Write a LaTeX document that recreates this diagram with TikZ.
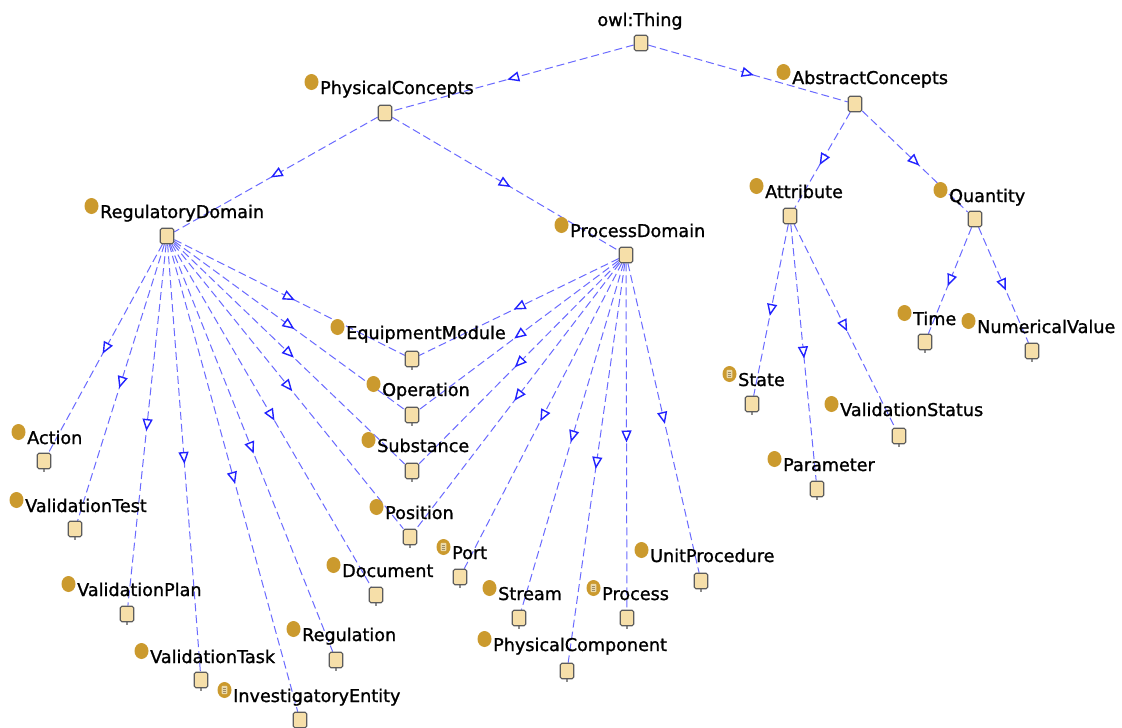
\documentclass[tikz,border=0pt]{standalone}
\usepackage{fontspec}
\setmainfont[FakeBold=1.2]{DejaVu Sans}
\usetikzlibrary{arrows.meta,decorations.markings,shapes.geometric}

\definecolor{boxfill}{HTML}{F6DFA9}
\definecolor{boxdraw}{HTML}{5C5C5C}
\definecolor{icongold}{HTML}{CB9A2E}
\definecolor{eqfill}{HTML}{EBD9A8}
\definecolor{eqline}{HTML}{9A8A68}
\definecolor{edgeblue}{HTML}{6A6AFF}
\definecolor{tipblue}{HTML}{2222FF}

\pgfdeclarelayer{paper}
\pgfdeclarelayer{edges}
\pgfsetlayers{paper,edges,main}

\tikzset{
  classbox/.style={rectangle, rounded corners=1.6pt, draw=boxdraw, fill=boxfill,
    line width=1.1pt, minimum width=13.5pt, minimum height=15.5pt, inner sep=0pt},
  innerbox/.style={classbox},
  leafbox/.style={classbox,
    append after command={\pgfextra{\draw[boxdraw!70, line width=1.3pt]
      (\tikzlastnode.south) -- ++(0,2.2);}}},
  clslabel/.style={anchor=base west, inner sep=0pt,
    font=\fontsize{17.6}{20}\selectfont},
  clsicon/.style={ellipse, fill=icongold, minimum width=14pt,
    minimum height=16pt, inner sep=0pt},
  isa/.style={draw=edgeblue, line width=1pt, dash pattern=on 8pt off 4pt,
    postaction={decorate},
    decoration={markings, mark=at position 0.5 with
      {\arrow[xshift=6pt]{Triangle[length=12pt,width=10pt,fill=white,
        color=tipblue,line width=1.4pt]}}}},
}

% one ontology class: square, its name, and the class icon left of the name
\newcommand{\owlclass}[5]{%
  \node[#5] (#1) at (#2) {};
  \node[clslabel] (#1-lbl) at (#3) {#4};
  \node[clsicon] (#1-ico) at ([shift={(-8.5,-12)}]#1-lbl.base west) {};
}
% defined-class marker drawn inside an icon
\newcommand{\eqmark}[1]{%
  \fill[eqfill, rounded corners=0.8pt] ([shift={(-2.8,-4.2)}]#1-ico.center)
    rectangle ([shift={(2.8,4.2)}]#1-ico.center);
  \foreach \dy in {-1.8,0,1.8}
    \draw[eqline, line width=0.6pt] ([shift={(-1.7,\dy)}]#1-ico.center) -- ++(3.4,0);
}

\begin{document}
\begin{tikzpicture}[x=1pt, y=-1pt]
\begin{pgfonlayer}{paper}
  \fill[white] (0,0) rectangle (1122,728);
\end{pgfonlayer}
\useasboundingbox (0,0) rectangle (1122,728);

% root
\node[innerbox] (thing) at (641,43) {};
\node[anchor=base, inner sep=0pt, font=\fontsize{17.6}{20}\selectfont]
  (thing-lbl) at (640,26) {owl:Thing};

% upper levels
\owlclass{phys}{385,113}{320,94}{PhysicalConcepts}{innerbox}
\owlclass{abs}{855,104}{792,84}{AbstractConcepts}{innerbox}
\owlclass{reg}{167,236}{100,218}{RegulatoryDomain}{innerbox}
\owlclass{proc}{626,255}{570,237}{ProcessDomain}{innerbox}
\owlclass{attr}{790,216}{765,198}{Attribute}{innerbox}
\owlclass{quant}{975,219}{949,202}{Quantity}{innerbox}

% abstract leaves
\owlclass{time}{925,342}{913,325}{Time}{leafbox}
\owlclass{numv}{1032,351}{977,333}{NumericalValue}{leafbox}
\owlclass{state}{752,404}{738,386}{State}{leafbox}
\owlclass{vstat}{899,436}{840,416}{ValidationStatus}{leafbox}
\owlclass{param}{817,489}{783,471}{Parameter}{leafbox}

% shared and process leaves
\owlclass{equip}{412,359}{346,339}{EquipmentModule}{leafbox}
\owlclass{oper}{412,415}{382,396}{Operation}{leafbox}
\owlclass{subst}{412,471}{377,452}{Substance}{leafbox}
\owlclass{posn}{410,537}{385,519}{Position}{leafbox}
\owlclass{port}{460,577}{452,559}{Port}{leafbox}
\owlclass{doc}{376,595}{342,577}{Document}{leafbox}
\owlclass{stream}{519,618}{498,600}{Stream}{leafbox}
\owlclass{process}{627,618}{602,600}{Process}{leafbox}
\owlclass{unitp}{701,581}{650,562}{UnitProcedure}{leafbox}
\owlclass{physc}{567,671}{493,651}{PhysicalComponent}{leafbox}

% regulatory leaves
\owlclass{regul}{336,660}{302,641}{Regulation}{leafbox}
\owlclass{inv}{300,720}{233,702}{InvestigatoryEntity}{leafbox}
\owlclass{vtask}{201,680}{150,663}{ValidationTask}{leafbox}
\owlclass{vplan}{127,614}{77,596}{ValidationPlan}{leafbox}
\owlclass{vtest}{75,529}{25,512}{ValidationTest}{leafbox}
\owlclass{action}{44,461}{27,444}{Action}{leafbox}

\eqmark{state}
\eqmark{port}
\eqmark{process}
\eqmark{inv}

% subclass links
\begin{pgfonlayer}{edges}
  \draw[isa] (thing) -- (phys);
  \draw[isa] (thing) -- (abs);
  \draw[isa] (phys) -- (reg);
  \draw[isa] (phys) -- (proc);
  \draw[isa] (abs) -- (attr);
  \draw[isa] (abs) -- (quant);
  \foreach \c in {state,param,vstat}
    \draw[isa] (attr) -- (\c);
  \foreach \c in {time,numv}
    \draw[isa] (quant) -- (\c);
  \foreach \c in {action,vtest,vplan,vtask,inv,regul,doc,posn,subst,oper,equip}
    \draw[isa] (reg) -- (\c);
  \foreach \c in {equip,oper,subst,posn,port,stream,physc,process,unitp}
    \draw[isa] (proc) -- (\c);
\end{pgfonlayer}
\end{tikzpicture}
\end{document}
